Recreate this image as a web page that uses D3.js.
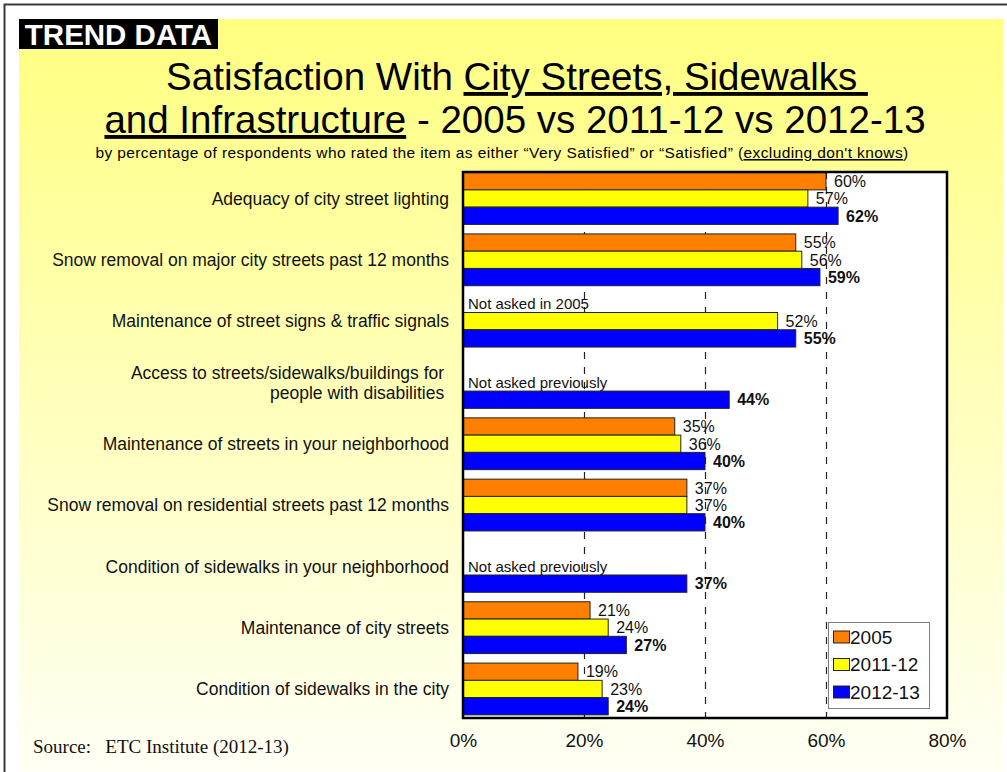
<!DOCTYPE html>
<html>
<head>
<meta charset="utf-8">
<script src="https://cdn.jsdelivr.net/npm/d3@7"></script>
<style>
  html, body { margin: 0; padding: 0; background: #fff; }
  svg { display: block; font-family: "Liberation Sans", Arial, sans-serif; }
  text { white-space: pre; }
</style>
</head>
<body>
<svg id="chart" width="1007" height="772"></svg>
<script>
// Survey items, top to bottom
const categories = [
  "Adequacy of city street lighting",
  "Snow removal on major city streets past 12 months",
  "Maintenance of street signs & traffic signals",
  "Access to streets/sidewalks/buildings for \npeople with disabilities ",
  "Maintenance of streets in your neighborhood",
  "Snow removal on residential streets past 12 months",
  "Condition of sidewalks in your neighborhood",
  "Maintenance of city streets",
  "Condition of sidewalks in the city"
];
const seriesNames = ["2005", "2011-12", "2012-13"];
const values2005   = [60, 55, null, null, 35, 37, null, 21, 19];
const values201112 = [57, 56, 52, null, 36, 37, null, 24, 23];
const values201213 = [62, 59, 55, 44, 40, 40, 37, 27, 24];
const notes = ["", "", "Not asked in 2005", "Not asked previously", "", "", "Not asked previously", "", ""];
const tickValues = [0, 20, 40, 60, 80];
const tickLabels = ["0%", "20%", "40%", "60%", "80%"];
const seriesColors = ["#FF8000", "#FFFF00", "#0000FF"];

const seriesValues = [values2005, values201112, values201213];

const svg = d3.select("#chart");

// Background panel with soft yellow fade
const defs = svg.append("defs");
const grad = defs.append("linearGradient").attr("id", "bgFade")
  .attr("x1", 0).attr("y1", 0).attr("x2", 0).attr("y2", 1);
grad.append("stop").attr("offset", "0%").attr("stop-color", "#FFFF80");
grad.append("stop").attr("offset", "100%").attr("stop-color", "#FFFFF6");

svg.append("rect").attr("x", 19).attr("y", 19).attr("width", 984).attr("height", 760)
  .attr("fill", "url(#bgFade)");

// Slide frame (top and left edges)
svg.append("path").attr("d", "M4.5,772 L4.5,4.5 L1007,4.5")
  .attr("fill", "none").attr("stroke", "#3a3a3a").attr("stroke-width", 2);

// Header badge
svg.append("rect").attr("x", 19).attr("y", 19).attr("width", 199).attr("height", 30).attr("fill", "#000");
svg.append("text").attr("x", 118.5).attr("y", 44.5).attr("text-anchor", "middle")
  .attr("fill", "#fff").attr("font-weight", "bold").attr("font-size", 29.5).text("TREND DATA");

// Title
const t1 = svg.append("text").attr("x", 517).attr("y", 90).attr("text-anchor", "middle").attr("font-size", 38.5);
t1.append("tspan").text("Satisfaction With ");
t1.append("tspan").attr("text-decoration", "underline").text("City Streets, Sidewalks ");
const t2 = svg.append("text").attr("x", 515).attr("y", 133).attr("text-anchor", "middle").attr("font-size", 38.5);
t2.append("tspan").attr("text-decoration", "underline").text("and Infrastructure");
t2.append("tspan").text(" - 2005 vs 2011-12 vs 2012-13");

const sub = svg.append("text").attr("x", 502).attr("y", 158).attr("text-anchor", "middle")
  .attr("font-size", 15.5).attr("letter-spacing", 0.4);
sub.append("tspan").text("by percentage of respondents who rated the item as either \u201cVery Satisfied\u201d or \u201cSatisfied\u201d (");
sub.append("tspan").attr("text-decoration", "underline").text("excluding don't knows");
sub.append("tspan").text(")");

// Plot geometry
const plot = { left: 463, top: 172, right: 947, bottom: 718 };

const x = d3.scaleLinear().domain([0, 80]).range([plot.left, plot.right]);
const y = d3.scaleBand().domain(categories).range([plot.top, 715.5])
  .paddingInner(0.155).paddingOuter(0.01);
const ySub = d3.scaleBand().domain(seriesNames).range([0, y.bandwidth()]);

svg.append("rect").attr("x", plot.left).attr("y", plot.top)
  .attr("width", plot.right - plot.left).attr("height", plot.bottom - plot.top)
  .attr("fill", "#fff");

// Dashed gridlines
svg.append("g").selectAll("line").data(tickValues.filter(v => v > 0 && v < 80)).join("line")
  .attr("x1", d => Math.round(x(d)) + 0.5).attr("x2", d => Math.round(x(d)) + 0.5)
  .attr("y1", plot.top).attr("y2", plot.bottom)
  .attr("stroke", "#222").attr("stroke-width", 1.2).attr("stroke-dasharray", "7,8");

// Bars
const rows = [];
categories.forEach((c, i) => {
  seriesNames.forEach((s, j) => {
    const v = seriesValues[j][i];
    if (v != null) rows.push({ cat: c, series: s, idx: j, value: v });
  });
});

const gBars = svg.append("g");
gBars.selectAll("rect").data(rows).join("rect")
  .attr("x", x(0))
  .attr("y", d => y(d.cat) + ySub(d.series))
  .attr("width", d => x(d.value) - x(0))
  .attr("height", ySub.bandwidth())
  .attr("fill", d => seriesColors[d.idx])
  .attr("stroke", "#222").attr("stroke-width", 1);

// Value labels
gBars.selectAll("text").data(rows).join("text")
  .attr("x", d => x(d.value) + 8)
  .attr("y", d => y(d.cat) + ySub(d.series) + ySub.bandwidth() / 2)
  .attr("dy", "0.36em")
  .attr("font-size", 16)
  .attr("font-weight", d => d.idx === 2 ? "bold" : "normal")
  .attr("fill", "#111")
  .text(d => d.value + "%");

// Notes for items not asked in earlier years
categories.forEach((c, i) => {
  if (!notes[i]) return;
  const missing = seriesValues.filter(s => s[i] == null).length;
  const slot = seriesNames[missing - 1];
  svg.append("text").attr("x", 468)
    .attr("y", y(c) + ySub(slot) + ySub.bandwidth() / 2).attr("dy", "0.36em")
    .attr("font-size", 15).attr("fill", "#111").text(notes[i]);
});

// Plot frame
svg.append("rect").attr("x", plot.left).attr("y", plot.top)
  .attr("width", plot.right - plot.left).attr("height", plot.bottom - plot.top)
  .attr("fill", "none").attr("stroke", "#000").attr("stroke-width", 2.5);

// Category axis labels
const gCat = svg.append("g");
categories.forEach(c => {
  const lines = c.split("\n");
  const cy = y(c) + y.bandwidth() / 2;
  const lh = 20;
  const t = gCat.append("text").attr("text-anchor", "end").attr("font-size", 17.5).attr("fill", "#111");
  lines.forEach((ln, k) => {
    t.append("tspan").attr("x", 449)
      .attr("y", cy + (k - (lines.length - 1) / 2) * lh).attr("dy", "0.36em").text(ln);
  });
});

// Value axis
const xAxis = d3.axisBottom(x).tickValues(tickValues)
  .tickFormat((d, i) => tickLabels[i]).tickSize(0).tickPadding(0);
const gx = svg.append("g").attr("transform", `translate(0,${plot.bottom})`).call(xAxis);
gx.select(".domain").remove();
gx.selectAll("text").attr("font-size", 19).attr("fill", "#111")
  .attr("font-family", "Liberation Sans, Arial, sans-serif")
  .attr("dy", null).attr("y", 29);

// Legend
const lg = svg.append("g").attr("transform", "translate(828,622)");
lg.append("rect").attr("x", 0.5).attr("y", 0.5).attr("width", 101).attr("height", 86)
  .attr("fill", "#fff").attr("stroke", "#808080").attr("stroke-width", 1);
seriesNames.forEach((s, j) => {
  const cy = 15 + j * 27.5;
  lg.append("rect").attr("x", 5.5).attr("y", cy - 6).attr("width", 16).attr("height", 12)
    .attr("fill", seriesColors[j]).attr("stroke", "#222").attr("stroke-width", 1);
  lg.append("text").attr("x", 22).attr("y", cy).attr("dy", "0.36em")
    .attr("font-size", 19).attr("fill", "#111").text(s);
});

// Source note
svg.append("text").attr("x", 33).attr("y", 753)
  .attr("font-family", "Liberation Serif, 'Times New Roman', serif")
  .attr("font-size", 19).attr("fill", "#111").text("Source:   ETC Institute (2012-13)");
</script>
</body>
</html>
